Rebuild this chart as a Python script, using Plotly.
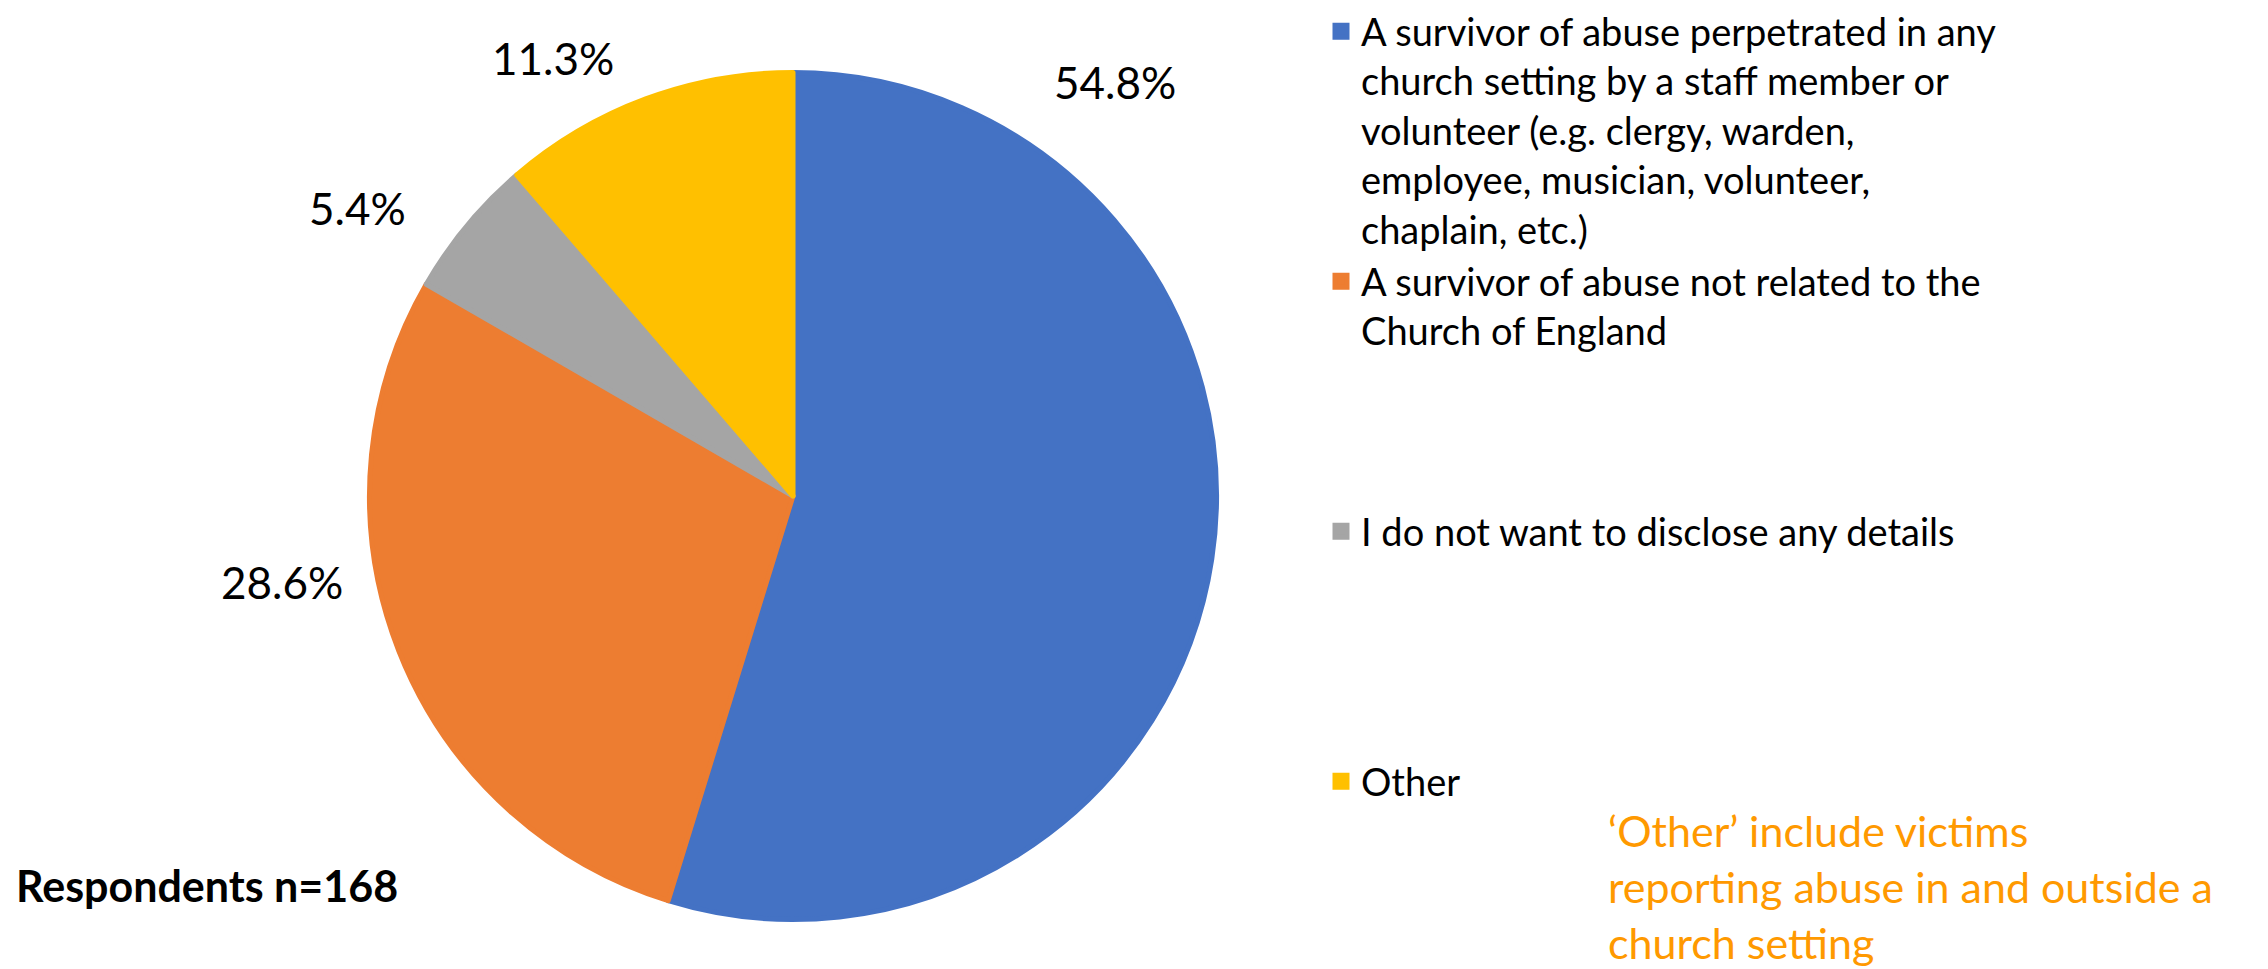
import plotly.graph_objects as go

# ---- data ----
categories = [
    "A survivor of abuse perpetrated in any<br>church setting by a staff member or<br>volunteer (e.g. clergy, warden,<br>employee, musician, volunteer,<br>chaplain, etc.)",
    "A survivor of abuse not related to the<br>Church of England",
    "I do not want to disclose any details",
    "Other",
]
counts = [92, 48, 9, 19]
colors = ["#4472C4", "#ED7D31", "#A5A5A5", "#FFC000"]
n_respondents = sum(counts)
note_lines = ["\u2018Other\u2019 include victims", "reporting abuse in and outside a", "church setting"]

W, H = 2268, 969
FONT = "Lato, 'Open Sans', sans-serif"

# pad legend entries (except the last) to equal line count so entries are evenly spaced (like Excel)
max_lines = max(c.count("<br>") + 1 for c in categories)
legend_labels = []
for i, c in enumerate(categories):
    if i < len(categories) - 1:
        c = c + "<br>\u00a0" * (max_lines - (c.count("<br>") + 1))
    legend_labels.append(c)

total = sum(counts)
pct_text = [f"{v / total * 100:.1f}%" for v in counts]

# pie geometry (pixels); same-colour outline enlarges the legend squares
cx, cy, r = 793, 496, 426
edge = 5
r_dom = r - edge / 2

fig = go.Figure()
fig.add_trace(go.Pie(
    labels=legend_labels,
    values=counts,
    sort=False,
    direction="clockwise",
    rotation=0,
    marker=dict(colors=colors, line=dict(width=edge, color=colors)),
    textinfo="none",
    hoverinfo="label+percent",
    domain=dict(x=[(cx - r_dom) / W, (cx + r_dom) / W], y=[(H - cy - r_dom) / H, (H - cy + r_dom) / H]),
))

# data-label positions (pixel centres, Excel "best fit" placement)
label_pos = [(1115, 82), (282, 582), (357, 208), (553, 58)]
annotations = []
for txt, (px, py) in zip(pct_text, label_pos):
    annotations.append(dict(
        x=px / W, y=1 - py / H, xref="paper", yref="paper",
        text=txt, showarrow=False, xanchor="center", yanchor="middle",
        font=dict(family=FONT, size=44, color="#000000"),
    ))

annotations.append(dict(
    x=14 / W, y=1 - 885 / H, xref="paper", yref="paper",
    text=f"<b>Respondents n={n_respondents}</b>", showarrow=False,
    xanchor="left", yanchor="middle",
    font=dict(family=FONT, size=43, color="#000000"),
))
annotations.append(dict(
    x=1606 / W, y=1 - 886 / H, xref="paper", yref="paper",
    text="<br>".join(note_lines), showarrow=False, align="left",
    xanchor="left", yanchor="middle",
    font=dict(family=FONT, size=43, color="#FF9900"),
))

fig.update_layout(
    width=W, height=H, autosize=False,
    margin=dict(l=0, r=0, t=0, b=0),
    paper_bgcolor="white", plot_bgcolor="white",
    showlegend=True,
    legend=dict(
        x=1321 / W, y=1.0, xanchor="left", yanchor="top",
        valign="top", bgcolor="rgba(0,0,0,0)", borderwidth=0,
        font=dict(family=FONT, size=38, color="#000000"),
        traceorder="normal",
    ),
    annotations=annotations,
)

fig.write_html("out.html")
